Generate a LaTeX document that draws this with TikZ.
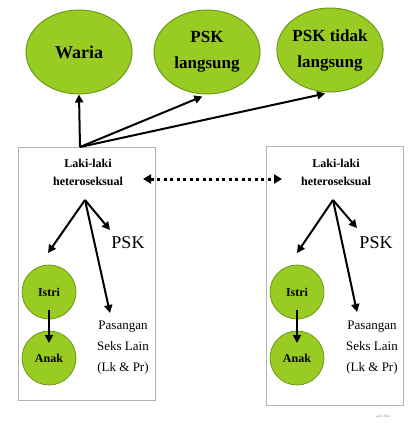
\documentclass[tikz,border=0pt]{standalone}
\usepackage{fontspec}
\setmainfont{Liberation Serif}
\usetikzlibrary{arrows.meta,shapes.geometric,calc}
\definecolor{lgreen}{HTML}{99CC22}
\definecolor{dgreen}{HTML}{6E9A1A}
\begin{document}
\begin{tikzpicture}[x=1pt,y=-1pt,
  ell/.style={ellipse, fill=lgreen, draw=dgreen, line width=1pt, minimum width=106pt, minimum height=84pt, font=\bfseries\fontsize{17}{26}\selectfont, align=center, inner sep=0pt},
  circ/.style={circle, fill=lgreen, draw=dgreen, line width=0.8pt, minimum size=54pt, inner sep=0pt, font=\bfseries\fontsize{12}{14}\selectfont},
  arr/.style={line width=2pt, -{Triangle[length=8pt,width=8pt]}},
  boxst/.style={draw=gray!60, line width=1pt, inner sep=0pt},
  lk/.style={font=\bfseries\fontsize{12}{18}\selectfont, align=center},
  pskt/.style={font=\fontsize{18}{20}\selectfont},
  pas/.style={font=\fontsize{13}{21}\selectfont, align=center}]
\useasboundingbox (0,0) rectangle (417,428);
% top ellipses
\node[ell, font=\bfseries\fontsize{18}{26}\selectfont] (waria) at (79,52) {Waria};
\node[ell] (pskl) at (207,52) {PSK\\langsung};
\node[ell] (psktl) at (330,50) {PSK tidak\\langsung};
% boxes
\node[boxst, minimum width=137pt, minimum height=253pt] (boxL) at (86.5,273.5) {};
\node[boxst, minimum width=137pt, minimum height=259pt] (boxR) at (334.5,275.5) {};
% top arrows
\coordinate (top) at (80,147);
\draw[arr] (top) -- (waria.south);
\draw[arr, shorten >=5pt] (top) -- (pskl.south);
\draw[arr, shorten >=5pt] (top) -- (psktl.south);
% left box
\node[lk] (lkL) at (88,172) {Laki-laki\\heteroseksual};
\coordinate (brL) at (85,200);
\node[pskt] (pskL) at (128,243) {PSK};
\node[circ] (istriL) at (49,292) {Istri};
\node[circ] (anakL) at (49,358) {Anak};
\node[pas] (pasL) at (123,348) {Pasangan\\Seks Lain\\(Lk \& Pr)};
\coordinate (aIL) at (48,253);
\coordinate (aPL) at (110,230);
\coordinate (aSL) at (110,313);
\draw[arr] (brL) -- (aIL);
\draw[arr] (brL) -- (aPL);
\draw[arr] (brL) -- (aSL);
\draw[arr] ($(istriL.center)+(0,18)$) -- ($(anakL.center)+(0,-15)$);
% right box
\node[lk] (lkR) at (336,172) {Laki-laki\\heteroseksual};
\coordinate (brR) at (333,200);
\node[pskt] (pskR) at (376,243) {PSK};
\node[circ] (istriR) at (297,292) {Istri};
\node[circ] (anakR) at (297,358) {Anak};
\node[pas] (pasR) at (372,348) {Pasangan\\Seks Lain\\(Lk \& Pr)};
\coordinate (aIR) at (297,253);
\coordinate (aPR) at (357,228);
\coordinate (aSR) at (357,312);
\draw[arr] (brR) -- (aIR);
\draw[arr] (brR) -- (aPR);
\draw[arr] (brR) -- (aSR);
\draw[arr] ($(istriR.center)+(0,18)$) -- ($(anakR.center)+(0,-15)$);
% dotted double arrow
\coordinate (dL) at (143,179);
\coordinate (dR) at (282,179);
\draw[line width=3pt, dash pattern=on 3pt off 3.5pt, {Triangle[length=8pt,width=9pt]}-{Triangle[length=8pt,width=9pt]}] (dL) -- (dR);
% tiny credit
\node[font=\fontsize{3.5}{4}\selectfont, text=gray] (cred) at (383,417) {wely 2012};
\end{tikzpicture}
\end{document}
